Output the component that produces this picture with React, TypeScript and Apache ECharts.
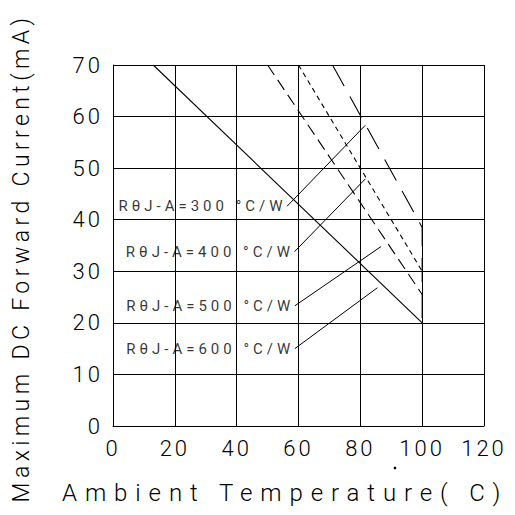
import React, { useEffect, useRef } from "react";
import * as echarts from "echarts";

// Axis ranges / ticks
const xRange = [0, 120];
const xStep = 20;
const yRange = [0, 70];
const yStep = 10;

// Derating curves (Ambient temperature °C, max DC forward current mA)
const curve600 = [[13, 70], [100, 20]];
const curve500 = [[50, 70], [100, 25.5]];
const curve400 = [[60, 70], [100, 30]];
const curve300 = [[71, 70], [100, 38.5], [100, 20]];

// Thermal resistance labels and their leader lines
const ratings = ["300", "400", "500", "600"];
const leaderStarts = [[56.3, 42.6], [58.7, 33.8], [58.8, 23.3], [58.8, 15.0]];
const leaderEnds = [[81.6, 58.3], [81.6, 47.9], [86.7, 34.8], [85.5, 26.8]];

const xTitle = "Ambient Temperature( C)";
const yTitle = "Maximum DC Forward Current(mA)";

const FONT = "Roboto";
const BLACK = "#000";

export default function App() {
  const ref = useRef<HTMLDivElement>(null);

  useEffect(() => {
    if (!ref.current) return;
    const chart = echarts.init(ref.current, null, { renderer: "svg" });

    const lineBase = (data: number[][], dash: any) => ({
      type: "line",
      data,
      symbol: "none",
      silent: true,
      clip: true,
      lineStyle: { color: BLACK, width: 1.1, type: dash },
    });

    const leaders = leaderStarts.map((s, i) => ({
      type: "line",
      data: [s, leaderEnds[i]],
      symbol: "none",
      silent: true,
      lineStyle: { color: BLACK, width: 1 },
    }));

    chart.setOption({
      animation: false,
      backgroundColor: "#fff",
      grid: {
        left: 113,
        top: 65,
        width: 371,
        height: 361,
        containLabel: false,
        outerBoundsMode: "none",
      },
      xAxis: {
        type: "value",
        min: xRange[0],
        max: xRange[1],
        interval: xStep,
        axisLine: { show: true, lineStyle: { color: BLACK, width: 1 } },
        axisTick: { show: false },
        splitLine: { show: true, lineStyle: { color: BLACK, width: 1 } },
        axisLabel: {
          color: BLACK,
          fontSize: 22,
          fontFamily: FONT,
          fontWeight: 300,
          margin: 11,
        },
      },
      yAxis: {
        type: "value",
        min: yRange[0],
        max: yRange[1],
        interval: yStep,
        axisLine: { show: true, lineStyle: { color: BLACK, width: 1 } },
        axisTick: { show: false },
        splitLine: { show: true, lineStyle: { color: BLACK, width: 1 } },
        axisLabel: {
          color: BLACK,
          fontSize: 22,
          fontFamily: FONT,
          fontWeight: 300,
          margin: 10,
        },
      },
      series: [
        lineBase(curve600, "solid"),
        lineBase(curve500, [12, 6]),
        lineBase(curve400, [5, 4]),
        lineBase(curve300, [24, 12]),
        ...leaders,
        {
          type: "scatter",
          silent: true,
          symbolSize: 1,
          itemStyle: { color: "rgba(0,0,0,0)" },
          data: leaderStarts.map((p, i) => ({ value: p, name: ratings[i] })),
          label: {
            show: true,
            position: "left",
            distance: 0,
            formatter: (p: any) => `RθJ-A=${p.name} °C/W`,
            color: BLACK,
            fontSize: 15,
            fontFamily: FONT,
            fontWeight: 400,
          },
        },
      ],
      graphic: [
        {
          type: "text",
          x: 62,
          y: 493,
          silent: true,
          style: {
            text: xTitle,
            fill: BLACK,
            font: `300 24px ${FONT}`,
            textAlign: "left",
            align: "left",
            textVerticalAlign: "middle",
            verticalAlign: "middle",
          },
        },
        {
          type: "text",
          x: 21,
          y: 258,
          rotation: Math.PI / 2,
          silent: true,
          style: {
            text: yTitle,
            fill: BLACK,
            font: `300 23px ${FONT}`,
            textAlign: "center",
            align: "center",
            textVerticalAlign: "middle",
            verticalAlign: "middle",
          },
        },
        {
          type: "circle",
          x: 395,
          y: 468,
          silent: true,
          shape: { r: 1.3 },
          style: { fill: BLACK },
        },
      ],
    });

    return () => chart.dispose();
  }, []);

  return (
    <>
      <style>{`
        .derating svg text[style*="22px"] { letter-spacing: 3px; }
        .derating svg text[style*="15px"] { letter-spacing: 4px; }
        .derating svg text[style*="24px"] { letter-spacing: 7.9px; }
        .derating svg text[style*="23px"] { letter-spacing: 4.4px; }
      `}</style>
      <div
        ref={ref}
        className="derating"
        style={{ position: "fixed", left: 0, top: 0, width: 515, height: 515, background: "#fff" }}
      />
    </>
  );
}
